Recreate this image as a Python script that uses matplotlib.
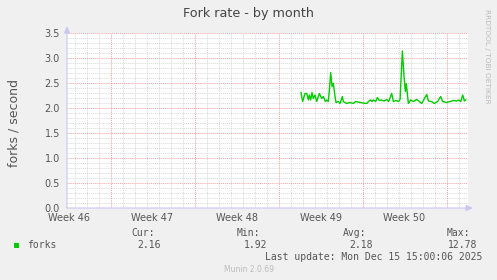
import matplotlib
matplotlib.use("Agg")
import matplotlib.pyplot as plt
import numpy as np

# ---- data ----
title = "Fork rate - by month"
ylabel = "forks / second"
week_labels = ["Week 46", "Week 47", "Week 48", "Week 49", "Week 50"]
week_label_pos = [3.5, 10.5, 17.5, 24.5, 31.5]      # days since Mon Nov 10 00:00
week_starts = [7, 14, 21, 28, 35]                     # red major lines
x_range = [3.375, 36.79]
y_ticks = [0.0, 0.5, 1.0, 1.5, 2.0, 2.5, 3.0, 3.5]

days = [22.875, 23.01, 23.21, 23.35, 23.49, 23.57, 23.68, 23.79, 23.90, 24.04,
        24.18, 24.40, 24.60, 24.74, 24.90, 25.01, 25.15, 25.24, 25.35, 25.46,
        25.57, 25.71, 25.79, 25.99, 26.13, 26.32, 26.40, 26.68, 26.95, 27.24,
        27.43, 27.79, 28.05, 28.35, 28.54, 28.68, 28.79, 28.90, 29.10, 29.24,
        29.40, 29.60, 29.79, 30.01, 30.18, 30.43, 30.57, 30.79, 30.99, 31.13,
        31.32, 31.46, 31.57, 31.65, 31.82, 32.01, 32.24, 32.51, 32.74, 32.93,
        33.35, 33.49, 33.76, 33.96, 34.26, 34.51, 34.68, 35.01, 35.29, 35.57,
        35.85, 35.99, 36.18, 36.35, 36.49, 36.60]
forks = [2.31, 2.13, 2.29, 2.29, 2.16, 2.26, 2.16, 2.31, 2.19, 2.26,
         2.13, 2.29, 2.19, 2.23, 2.13, 2.16, 2.13, 2.36, 2.71, 2.43,
         2.49, 2.23, 2.11, 2.13, 2.09, 2.23, 2.13, 2.09, 2.11, 2.09,
         2.13, 2.11, 2.10, 2.09, 2.14, 2.16, 2.13, 2.16, 2.13, 2.21,
         2.15, 2.16, 2.14, 2.17, 2.13, 2.29, 2.13, 2.15, 2.13, 2.17,
         3.14, 2.63, 2.33, 2.49, 2.09, 2.16, 2.13, 2.17, 2.13, 2.09,
         2.27, 2.14, 2.13, 2.09, 2.13, 2.23, 2.13, 2.11, 2.13, 2.15,
         2.14, 2.16, 2.13, 2.26, 2.14, 2.16]

stats_names = ["Cur:", "Min:", "Avg:", "Max:"]
stats_values = ["2.16", "1.92", "2.18", "12.78"]
series_name = "forks"
last_update = "Last update: Mon Dec 15 15:00:06 2025"
footer = "Munin 2.0.69"
side_text = "RRDTOOL / TOBI OETIKER"

# ---- figure ----
W, H = 497, 280
fig = plt.figure(figsize=(W / 100, H / 100), dpi=100, facecolor="#F0F0F0")
L, R, T, B = 67, 468, 33, 208
ax = fig.add_axes([L / W, 1 - B / H, (R - L) / W, (B - T) / H])
ax.set_facecolor("white")
ax.set_xlim(*x_range)
ax.set_ylim(0, 3.5)

grid_minor = "#D8D8D8"
grid_major = "#F2A0A0"
axis_col = "#C8C8F0"
txt = "#555555"

# minor grid
for d in np.arange(4, 37, 1):
    if d not in week_starts:
        ax.axvline(d, color=grid_minor, lw=0.7, ls=(0, (1, 1)), zorder=1)
for v in np.arange(0.1, 3.51, 0.1):
    if abs(v * 2 - round(v * 2)) > 1e-6:
        ax.axhline(v, color=grid_minor, lw=0.7, ls=(0, (1, 1)), zorder=1)
# major grid
for d in week_starts:
    ax.axvline(d, color=grid_major, lw=0.7, ls=(0, (1, 1)), zorder=2)
for v in y_ticks[1:]:
    ax.axhline(v, color=grid_major, lw=0.7, ls=(0, (1, 1)), zorder=2)

ax.plot(days, forks, color="#00CC00", lw=1.0, zorder=4)

for s in ax.spines.values():
    s.set_visible(False)
ax.set_yticks(y_ticks)
ax.set_yticklabels([f"{v:.1f}" for v in y_ticks])
ax.set_xticks(week_label_pos)
ax.set_xticklabels(week_labels)
ax.tick_params(axis="both", length=0, labelsize=7, labelcolor=txt)
ax.tick_params(axis="y", pad=5)
ax.tick_params(axis="x", pad=3.5)

# axes lines with arrows
ax.annotate("", xy=(1.0 + 5 / (R - L), 0), xytext=(0, 0), xycoords="axes fraction",
            arrowprops=dict(arrowstyle="-|>,head_length=0.4,head_width=0.18",
                            color=axis_col, lw=0.8, shrinkA=0, shrinkB=0), annotation_clip=False)
ax.annotate("", xy=(0, 1.0 + 7 / (B - T)), xytext=(0, 0), xycoords="axes fraction",
            arrowprops=dict(arrowstyle="-|>,head_length=0.4,head_width=0.18",
                            color=axis_col, lw=0.8, shrinkA=0, shrinkB=0), annotation_clip=False)

def fx(px):
    return px / W

def fy(py):
    return 1 - py / H

fig.text(fx(249), fy(14), title, ha="center", va="center", fontsize=9.2, color="#444444")
fig.text(fx(14), fy(123), ylabel, ha="center", va="center", rotation=90, fontsize=9, color=txt)
fig.text(fx(487), fy(56), side_text, ha="center", va="center", rotation=270,
         fontsize=5.3, color="#BBBBBB")

mono = "DejaVu Sans Mono"
fig.patches.append(plt.Rectangle((fx(14), fy(247.5)), 5 / W, 5 / H, transform=fig.transFigure,
                                 facecolor="#00CC00", edgecolor="none"))
fig.text(fx(27), fy(244.5), series_name, ha="left", va="center", fontsize=7, family=mono, color=txt)
hdr_right = [154.5, 260.5, 366, 470.5]
val_right = [161, 267, 372.5, 477.5]
for n, v, hr, vr in zip(stats_names, stats_values, hdr_right, val_right):
    fig.text(fx(hr), fy(233), n, ha="right", va="center", fontsize=7, family=mono, color=txt)
    fig.text(fx(vr), fy(244.5), v, ha="right", va="center", fontsize=7, family=mono, color=txt)
fig.text(fx(482.5), fy(256.5), last_update, ha="right", va="center", fontsize=7, family=mono, color=txt)
fig.text(fx(248.5), fy(269), footer, ha="center", va="center", fontsize=5.5, color="#BBBBBB")

fig.savefig("out.png", dpi=100, facecolor=fig.get_facecolor())
